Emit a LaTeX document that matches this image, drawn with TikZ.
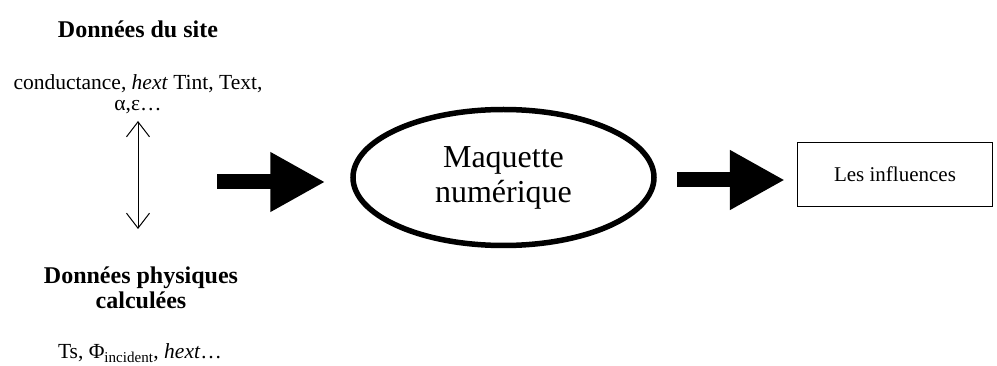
\documentclass[tikz,border=0pt]{standalone}
\usepackage{fontspec}
\setmainfont{Liberation Serif}
\usetikzlibrary{arrows.meta,shapes.geometric}
\tikzset{
  titre/.style={font=\bfseries\fontsize{24}{25}\selectfont, align=center},
  donnees/.style={font=\fontsize{21.5}{21}\selectfont, align=center},
  fleche/.style={line width=15pt, -{Triangle[length=55pt,width=56pt]}},
}
\begin{document}
\begin{tikzpicture}[x=1pt,y=-1pt]
\useasboundingbox (0,0) rectangle (997,366);
\node[titre] (site) at (138,29) {Données du site};
\node[donnees] (sitedata) at (138,94) {conductance, \textit{hext} Tint, Text,\\ α,ε…};
\node[titre] (physique) at (141,288) {Données physiques\\ calculées};
\node[donnees] (physdata) at (140,353) {Ts, Φ\textsubscript{incident}, \textit{hext}…};
\coordinate (haut) at (138,121);
\coordinate (bas) at (138,229);
\draw[line width=1pt, {Straight Barb[length=15pt,width=23pt]}-{Straight Barb[length=15pt,width=23pt]}] (haut) -- (bas);
\node[ellipse, draw, line width=5.5pt, minimum width=301pt, minimum height=136pt,
  align=center, font=\fontsize{32}{35}\selectfont] (maquette) at (503.5,177.5) {Maquette\\ numérique};
\node[draw, line width=1.3pt, minimum width=195pt, minimum height=64pt,
  font=\fontsize{21}{21}\selectfont] (influences) at (895,174.5) {Les influences};
% grosses fleches
\coordinate (depart) at (217,182);
\draw[fleche] (depart) -- ([xshift=-25pt]maquette.west |- depart);
\coordinate (sortie) at (677,180);
\draw[fleche] (sortie) -- ([xshift=-12pt]influences.west |- sortie);
\end{tikzpicture}
\end{document}
